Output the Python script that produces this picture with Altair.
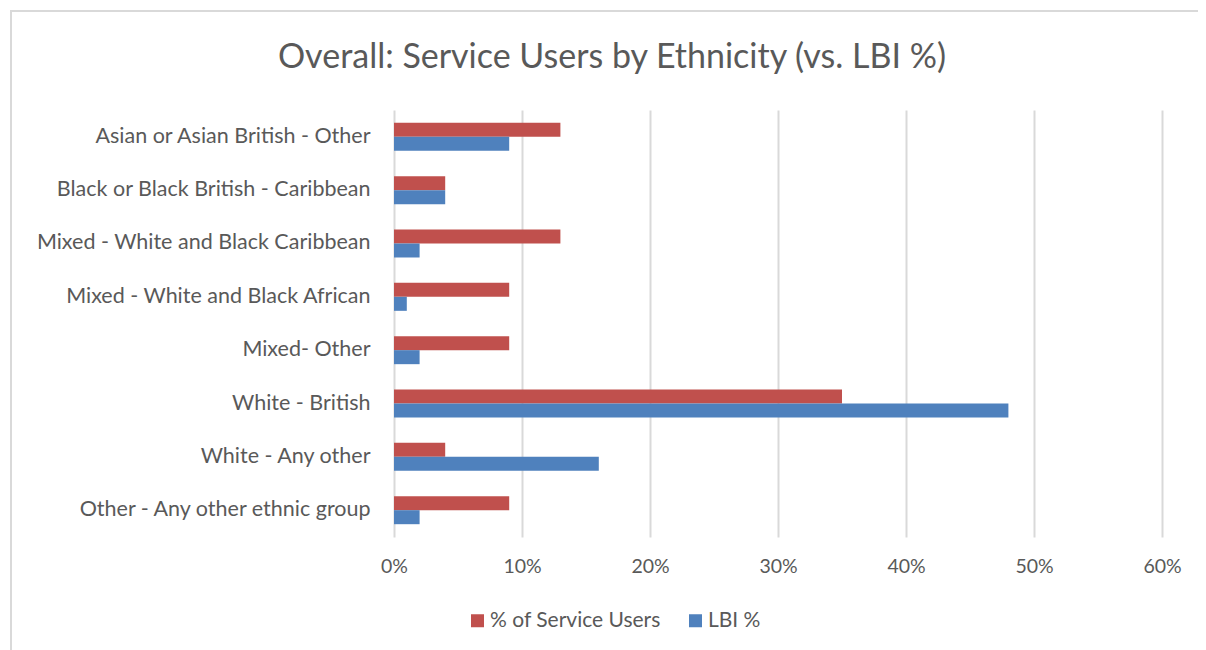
import altair as alt
import pandas as pd

categories = [
    "Asian or Asian British - Other",
    "Black or Black British - Caribbean",
    "Mixed - White and Black Caribbean",
    "Mixed - White and Black African",
    "Mixed- Other",
    "White - British",
    "White - Any other ",
    "Other - Any other ethnic group",
]
service_users = [13, 4, 13, 9, 9, 35, 4, 9]
lbi = [9, 4, 2, 1, 2, 48, 16, 2]
series = ["% of Service Users", "LBI %"]
colors = ["#C0504D", "#4F81BD"]

rows = []
for c, s, l in zip(categories, service_users, lbi):
    rows.append({"cat": c, "series": series[0], "val": s / 100})
    rows.append({"cat": c, "series": series[1], "val": l / 100})
df = pd.DataFrame(rows)

FONT = "Lato"
GREY = "#595959"

bars = alt.Chart(df).mark_bar().encode(
    y=alt.Y("cat:N", sort=categories, title=None,
            scale=alt.Scale(paddingInner=0.475, paddingOuter=0.24),
            axis=alt.Axis(ticks=False, domain=False, labelFontSize=21.5,
                          labelColor=GREY, labelFont=FONT, labelPadding=24,
                          labelLimit=400)),
    x=alt.X("val:Q", title=None,
            scale=alt.Scale(domain=[0, 0.6], nice=False),
            axis=alt.Axis(format="%", values=[0, 0.1, 0.2, 0.3, 0.4, 0.5, 0.6],
                          ticks=False, domain=False, grid=True, labelFlush=False,
                          gridColor="#d9d9d9", gridWidth=2,
                          labelFontSize=19.5, labelColor=GREY, labelFont=FONT,
                          labelPadding=20)),
    yOffset=alt.YOffset("series:N", sort=series,
                        scale=alt.Scale(paddingInner=0, paddingOuter=0)),
    color=alt.Color("series:N", sort=series,
                    scale=alt.Scale(domain=series, range=colors),
                    legend=alt.Legend(title=None, orient="none", direction="horizontal",
                                      legendX=73, legendY=500,
                                      symbolType="square", symbolSize=169,
                                      symbolStrokeWidth=0, labelLimit=400,
                                      labelFontSize=21, labelColor=GREY,
                                      labelFont=FONT, columnPadding=24,
                                      labelOffset=2)),
)

border = alt.Chart(alt.Data(values=[{"a": 1}])).mark_rect(
    filled=False, stroke="#d9d9d9", strokeWidth=2
).encode(
    x=alt.value(-383), x2=alt.value(830),
    y=alt.value(-99), y2=alt.value(560),
)

chart = alt.layer(border, bars).properties(
    width=768,
    height=427,
    autosize=alt.AutoSizeParams(type="none"),
    padding={"left": 386, "top": 102, "right": 36, "bottom": 113},
    title=alt.TitleParams(
        "Overall: Service Users by Ethnicity (vs. LBI %)",
        fontSize=34, font=FONT, color=GREY, fontWeight="normal",
        anchor="middle", dx=-166, offset=36, dy=101,
    ),
).configure_view(stroke=None)

chart.save("out.html", embed_options={"renderer": "svg", "actions": False})
